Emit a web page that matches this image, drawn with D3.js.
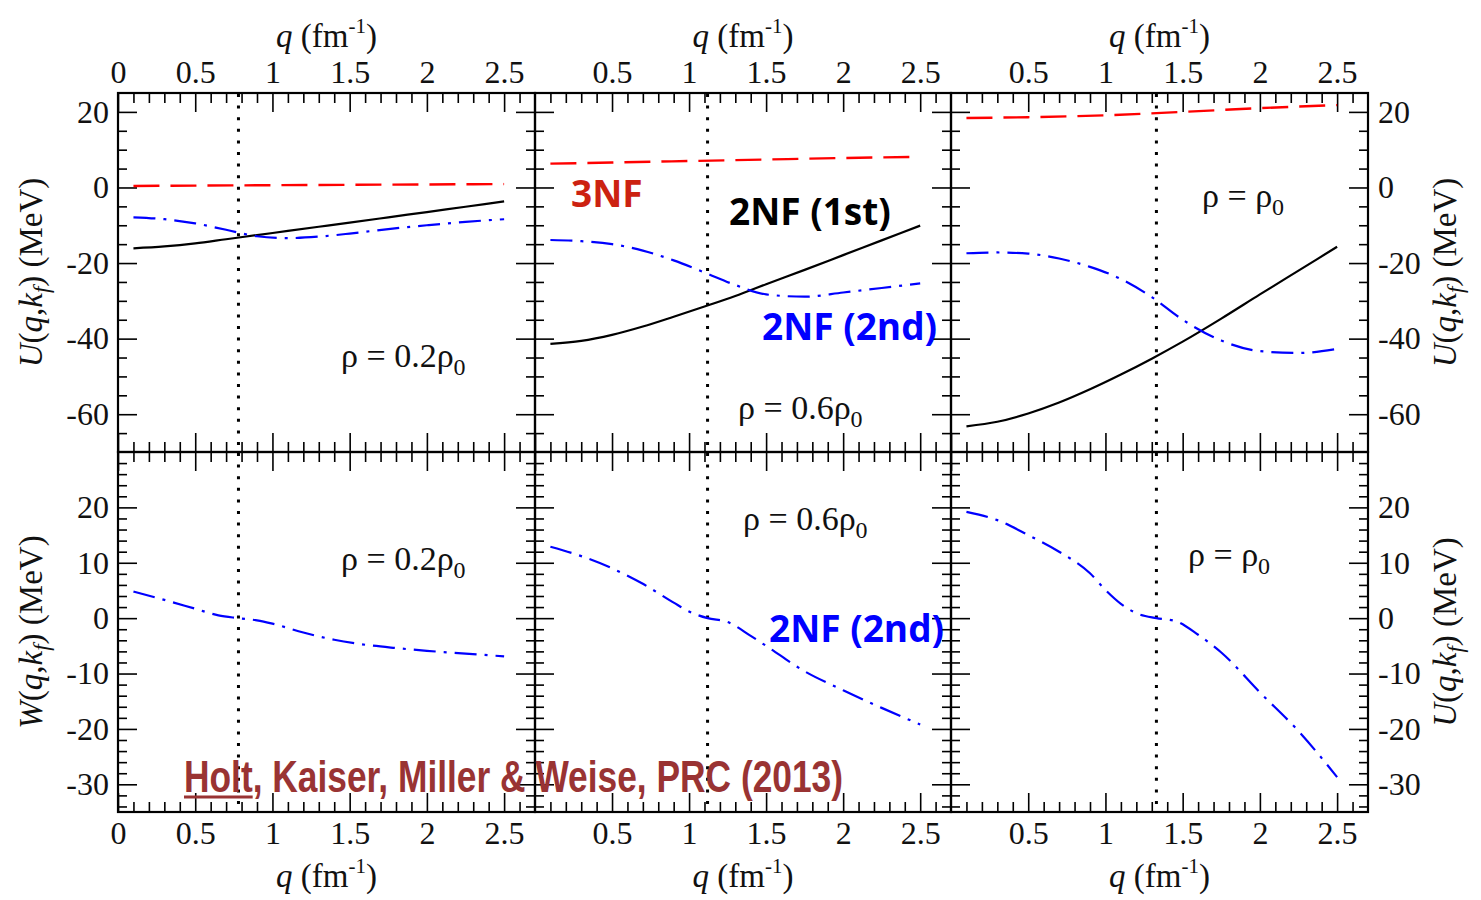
<!DOCTYPE html>
<html><head><meta charset="utf-8">
<script src="https://cdn.jsdelivr.net/npm/d3@7"></script>
<style>body{margin:0;background:#fff}</style>
</head><body>
<svg id="c" width="1481" height="900"></svg>
<script>
// ---------------- DATA ----------------
const qMajorTicks = [0, 0.5, 1, 1.5, 2, 2.5];
const uMajorTicks = [-60, -40, -20, 0, 20];
const wMajorTicks = [-30, -20, -10, 0, 10, 20];
const densityNames = ["0.2", "0.6", ""];
const kFermi = [0.78, 1.12, 1.33];

// U(q,kf): 3NF (red dashed)
const q3NF = [0.1, 0.5, 1.0, 1.5, 2.0, 2.5];
const u3NF_02 = [0.4, 0.5, 0.6, 0.7, 0.8, 0.9];
const u3NF_06 = [6.3, 6.6, 7.0, 7.4, 7.8, 8.1];
const u3NF_10 = [18.4, 18.6, 19.1, 20.0, 21.0, 21.8];

// U(q,kf): 2NF 1st order (black) and 2nd order (blue dash-dot)
const qU = [0.1, 0.3, 0.5, 0.7, 0.9, 1.1, 1.3, 1.5, 1.75, 2.0, 2.25, 2.5];
const u1st_02 = [-16.1, -15.6, -14.8, -13.7, -12.6, -11.5, -10.4, -9.3, -7.9, -6.5, -5.1, -3.7];
const u1st_06 = [-41.4, -40.6, -39.0, -36.8, -34.2, -31.5, -28.7, -25.6, -21.8, -17.9, -14.0, -10.1];
const u1st_10 = [-63.2, -62.0, -59.8, -56.9, -53.4, -49.5, -45.3, -40.8, -34.7, -28.3, -22.0, -15.7];
const u2nd_02 = [-7.9, -8.4, -9.5, -11.2, -12.9, -13.4, -13.0, -12.2, -11.0, -10.0, -9.1, -8.4];
const u2nd_06 = [-13.9, -14.2, -15.0, -16.7, -19.3, -22.5, -25.8, -28.3, -28.9, -27.8, -26.6, -25.4];
const u2nd_10 = [-17.4, -17.2, -17.5, -18.8, -21.0, -24.2, -29.0, -35.0, -40.5, -43.3, -43.8, -42.7];

// W(q,kf): 2NF 2nd order (blue dash-dot)
const qW_02 = [0.1, 0.3, 0.5, 0.65, 0.78, 0.9, 1.0, 1.2, 1.4, 1.6, 1.8, 2.0, 2.25, 2.5];
const w2nd_02 = [4.8, 3.3, 1.7, 0.5, 0.0, -0.4, -1.0, -2.6, -3.9, -4.8, -5.4, -5.9, -6.4, -6.9];
const qW_06 = [0.1, 0.3, 0.5, 0.7, 0.9, 1.0, 1.12, 1.25, 1.4, 1.5, 1.75, 2.0, 2.25, 2.5];
const w2nd_06 = [12.9, 11.2, 9.0, 6.2, 2.8, 1.2, 0.0, -0.7, -3.2, -5.0, -9.6, -13.0, -16.2, -19.2];
const qW_10 = [0.1, 0.3, 0.5, 0.7, 0.9, 1.0, 1.1, 1.2, 1.33, 1.45, 1.6, 1.75, 2.0, 2.25, 2.5];
const w2nd_10 = [19.2, 17.7, 15.0, 12.0, 8.1, 5.1, 2.6, 0.9, 0.0, -0.5, -3.0, -6.2, -13.4, -20.4, -28.7];

const citation = "Holt, Kaiser, Miller & Weise, PRC (2013)";

// ---------------- LAYOUT ----------------
const SERIF = "'Liberation Serif','Times New Roman',serif";
const SANS = "'Open Sans','Liberation Sans',sans-serif";
const colX = [118, 535, 951, 1368];
const rowY = [93, 452, 812];
const svg = d3.select("#c");

const zip = (a, b) => a.map((v, i) => [v, b[i]]);

const topSeries = [
  {q3: u3NF_02, first: u1st_02, second: u2nd_02},
  {q3: u3NF_06, first: u1st_06, second: u2nd_06},
  {q3: u3NF_10, first: u1st_10, second: u2nd_10}
];
const botSeries = [
  {q: qW_02, w: w2nd_02},
  {q: qW_06, w: w2nd_06},
  {q: qW_10, w: w2nd_10}
];

const fmt = d => String(d);

function styleAxis(g) {
  g.select(".domain").remove();
  g.selectAll("line").attr("stroke", "#000").attr("stroke-width", 1.6);
  g.selectAll("text").attr("font-family", SERIF).attr("font-size", 32).attr("fill", "#111");
}

function drawPanel(col, row) {
  const x = d3.scaleLinear().domain([0, 2.7]).range([colX[col], colX[col + 1]]);
  const y = row === 0
    ? d3.scaleLinear().domain([-70, 25]).range([rowY[1], rowY[0]])
    : d3.scaleLinear().domain([-35, 30]).range([rowY[2], rowY[1]]);
  const g = svg.append("g");

  const xMinor = d3.range(1, 27).map(i => i / 10).filter(v => Math.abs(v * 2 - Math.round(v * 2)) > 1e-6);
  const yMajor = row === 0 ? uMajorTicks : wMajorTicks;
  const yMinor = row === 0
    ? d3.range(-65, 25, 5).filter(v => v % 20 !== 0)
    : d3.range(-34, 30, 2).filter(v => v % 10 !== 0);
  const xLabTicks = col === 0 ? qMajorTicks : qMajorTicks.filter(v => v !== 0);

  // top edge
  g.append("g").attr("transform", `translate(0,${y.range()[1]})`)
    .call(d3.axisTop(x).tickValues(row === 0 ? xLabTicks : qMajorTicks).tickSizeInner(-19).tickSizeOuter(0).tickPadding(10)
      .tickFormat(row === 0 ? fmt : () => "")).call(styleAxis);
  g.append("g").attr("transform", `translate(0,${y.range()[1]})`)
    .call(d3.axisTop(x).tickValues(xMinor).tickSizeInner(-10).tickSizeOuter(0).tickFormat(() => "")).call(styleAxis);
  // bottom edge
  g.append("g").attr("transform", `translate(0,${y.range()[0]})`)
    .call(d3.axisBottom(x).tickValues(row === 1 ? xLabTicks : qMajorTicks).tickSizeInner(-19).tickSizeOuter(0).tickPadding(9)
      .tickFormat(row === 1 ? fmt : () => "")).call(styleAxis);
  g.append("g").attr("transform", `translate(0,${y.range()[0]})`)
    .call(d3.axisBottom(x).tickValues(xMinor).tickSizeInner(-10).tickSizeOuter(0).tickFormat(() => "")).call(styleAxis);
  // left edge
  g.append("g").attr("transform", `translate(${x.range()[0]},0)`)
    .call(d3.axisLeft(y).tickValues(yMajor).tickSizeInner(-19).tickSizeOuter(0).tickPadding(9)
      .tickFormat(col === 0 ? fmt : () => "")).call(styleAxis);
  g.append("g").attr("transform", `translate(${x.range()[0]},0)`)
    .call(d3.axisLeft(y).tickValues(yMinor).tickSizeInner(-9).tickSizeOuter(0).tickFormat(() => "")).call(styleAxis);
  // right edge
  g.append("g").attr("transform", `translate(${x.range()[1]},0)`)
    .call(d3.axisRight(y).tickValues(yMajor).tickSizeInner(-19).tickSizeOuter(0).tickPadding(10)
      .tickFormat(col === 2 ? fmt : () => "")).call(styleAxis);
  g.append("g").attr("transform", `translate(${x.range()[1]},0)`)
    .call(d3.axisRight(y).tickValues(yMinor).tickSizeInner(-9).tickSizeOuter(0).tickFormat(() => "")).call(styleAxis);

  // frame
  g.append("rect").attr("x", x.range()[0]).attr("y", y.range()[1])
    .attr("width", x.range()[1] - x.range()[0]).attr("height", y.range()[0] - y.range()[1])
    .attr("fill", "none").attr("stroke", "#000").attr("stroke-width", 2.2);

  // Fermi momentum dotted line
  g.append("line").attr("x1", x(kFermi[col])).attr("x2", x(kFermi[col]))
    .attr("y1", y.range()[1] + 1).attr("y2", y.range()[0])
    .attr("stroke", "#000").attr("stroke-width", 3).attr("stroke-dasharray", "3,8.6");

  const line = d3.line().x(d => x(d[0])).y(d => y(d[1])).curve(d3.curveMonotoneX);
  if (row === 0) {
    const s = topSeries[col];
    g.append("path").attr("d", line(zip(q3NF, s.q3))).attr("fill", "none")
      .attr("stroke", "#ff0000").attr("stroke-width", 2.4).attr("stroke-dasharray", "26,11");
    g.append("path").attr("d", line(zip(qU, s.first))).attr("fill", "none")
      .attr("stroke", "#000").attr("stroke-width", 2.2);
    g.append("path").attr("d", line(zip(qU, s.second))).attr("fill", "none")
      .attr("stroke", "#0000ff").attr("stroke-width", 2.2).attr("stroke-dasharray", "22,8,3,8");
  } else {
    const s = botSeries[col];
    g.append("path").attr("d", line(zip(s.q, s.w))).attr("fill", "none")
      .attr("stroke", "#0000ff").attr("stroke-width", 2.2).attr("stroke-dasharray", "22,8,3,8");
  }
  return {x, y};
}

for (let r = 0; r < 2; r++) for (let c = 0; c < 3; c++) drawPanel(c, r);

// ---- axis titles ----
function qTitle(cx, by) {
  const t = svg.append("text").attr("x", cx).attr("y", by).attr("text-anchor", "middle")
    .attr("font-family", SERIF).attr("font-size", 33).attr("fill", "#111");
  t.append("tspan").attr("font-style", "italic").text("q");
  t.append("tspan").text(" (fm");
  t.append("tspan").attr("font-size", 21).attr("dy", -14).text("-1");
  t.append("tspan").attr("dy", 14).text(")");
}
for (let c = 0; c < 3; c++) {
  const cx = (colX[c] + colX[c + 1]) / 2;
  qTitle(cx, 47);
  qTitle(cx, 887);
}
function yTitle(bx, cy, letter) {
  const t = svg.append("text").attr("transform", `translate(${bx},${cy}) rotate(-90)`)
    .attr("text-anchor", "middle").attr("font-family", SERIF).attr("font-size", 33).attr("fill", "#111");
  t.append("tspan").attr("font-style", "italic").text(letter);
  t.append("tspan").text("(");
  t.append("tspan").attr("font-style", "italic").text("q");
  t.append("tspan").text(",");
  t.append("tspan").attr("font-style", "italic").text("k");
  t.append("tspan").attr("font-style", "italic").attr("font-size", 23).attr("dy", 7).text("f");
  t.append("tspan").attr("dy", -7).text(") (MeV)");
}
const midTop = (rowY[0] + rowY[1]) / 2, midBot = (rowY[1] + rowY[2]) / 2;
yTitle(42, midTop, "U");
yTitle(42, midBot, "W");
yTitle(1456, midTop, "U");
yTitle(1456, midBot, "U");

// ---- density labels ----
function rhoLabel(xL, by, name) {
  const t = svg.append("text").attr("x", xL).attr("y", by)
    .attr("font-family", SERIF).attr("font-size", 34).attr("fill", "#111");
  t.append("tspan").text("ρ = " + name + "ρ");
  t.append("tspan").attr("font-size", 24).attr("dy", 8).text("0");
}
rhoLabel(341, 367, densityNames[0]);
rhoLabel(738, 419, densityNames[1]);
rhoLabel(1202, 207, densityNames[2]);
rhoLabel(341, 570, densityNames[0]);
rhoLabel(743, 530, densityNames[1]);
rhoLabel(1188, 566, densityNames[2]);

// ---- curve annotations ----
function ann(xL, by, txt, color) {
  svg.append("text").attr("x", xL).attr("y", by).attr("font-family", SANS)
    .attr("font-weight", 700).attr("font-size", 37).attr("fill", color).text(txt);
}
ann(571, 207, "3NF", "#cc2211");
ann(729, 225, "2NF (1st)", "#000");
ann(762, 340, "2NF (2nd)", "#0000ff");
ann(769, 642, "2NF (2nd)", "#0000ff");

// ---- citation ----
const cit = svg.append("text").attr("x", 184).attr("y", 792)
  .attr("font-family", "'Liberation Sans Narrow','Liberation Sans',Arial,sans-serif")
  .attr("font-weight", 700).attr("font-size", 45).attr("fill", "#993333")
  .attr("textLength", 659).attr("lengthAdjust", "spacingAndGlyphs").text(citation);
let holtW = 67;
try { holtW = cit.node().getSubStringLength(0, 4); } catch (e) {}
svg.append("line").attr("x1", 184).attr("x2", 184 + holtW).attr("y1", 797).attr("y2", 797)
  .attr("stroke", "#993333").attr("stroke-width", 3);
</script>
</body></html>
